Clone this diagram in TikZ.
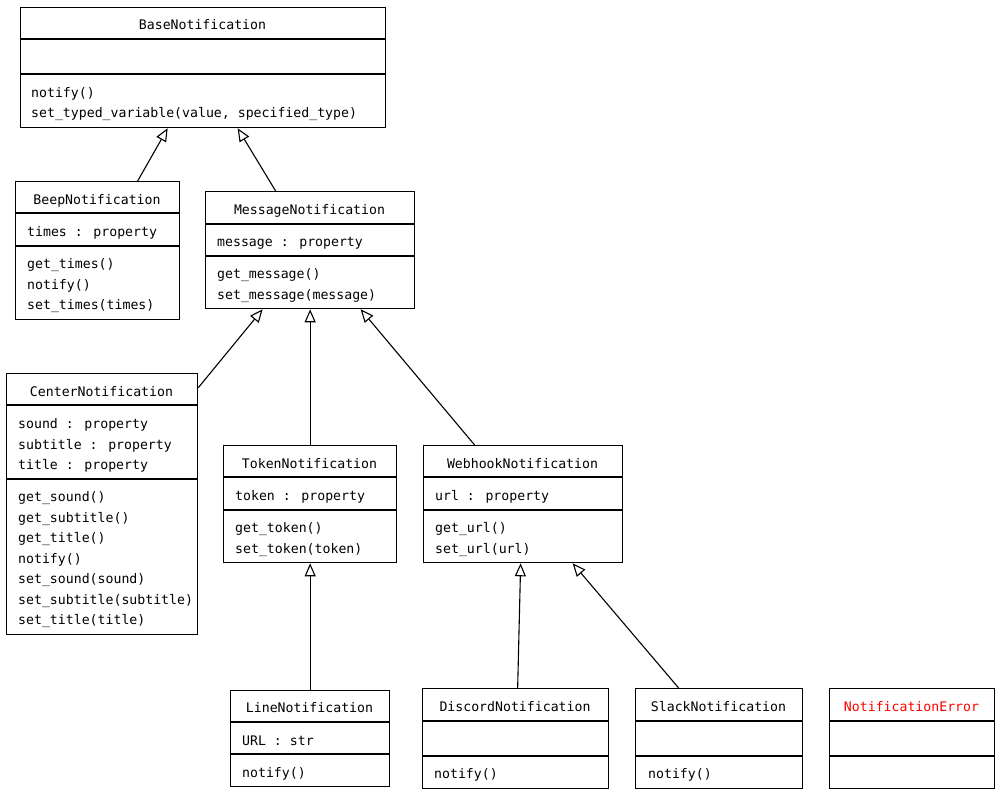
\documentclass[tikz,border=0pt]{standalone}
\usepackage{fontspec}
\newfontfamily\dvm{DejaVu Sans Mono}
\usetikzlibrary{arrows.meta}
\begin{document}
\begin{tikzpicture}[x=1pt,y=-1pt,
 cls/.style={draw, line width=1.3pt, anchor=north west, inner sep=0pt, fill=white},
 txt/.style={font=\dvm\fontsize{13.2}{15}\selectfont, inner sep=0pt, text height=12pt, text depth=2pt},
 lt/.style={txt, anchor=west},
 div/.style={line width=1.2pt},
 inh/.style={line width=1.1pt, -{Triangle[open, length=13pt, width=11pt]}}]
\useasboundingbox (0,0) rectangle (1000,795);

% BaseNotification
\node[cls, minimum width=365pt, minimum height=120pt] (base) at (20,7) {};
\draw[div] (20,39) -- (385,39) (20,74) -- (385,74);
\node[txt] (baseT) at (202.5,24) {BaseNotification};
\node[lt] (baseM1) at (31,92) {notify()};
\node[lt] (baseM2) at (31,112.5) {set\_typed\_variable(value, specified\_type)};

% BeepNotification
\node[cls, minimum width=164pt, minimum height=138pt] (beep) at (15,181) {};
\draw[div] (15,213) -- (179,213) (15,246) -- (179,246);
\node[txt] (beepT) at (97,199) {BeepNotification};
\node[lt] (beepA1) at (27,231) {times : property};
\node[lt] (beepM1) at (27,263.5) {get\_times()};
\node[lt] (beepM2) at (27,284) {notify()};
\node[lt] (beepM3) at (27,304.5) {set\_times(times)};

% MessageNotification
\node[cls, minimum width=209pt, minimum height=117pt] (msg) at (205,191) {};
\draw[div] (205,224) -- (414,224) (205,256) -- (414,256);
\node[txt] (msgT) at (309.5,209) {MessageNotification};
\node[lt] (msgA1) at (217,241.5) {message : property};
\node[lt] (msgM1) at (217,273.5) {get\_message()};
\node[lt] (msgM2) at (217,294) {set\_message(message)};

% CenterNotification
\node[cls, minimum width=191pt, minimum height=261pt] (center) at (6,373) {};
\draw[div] (6,405) -- (197,405) (6,479) -- (197,479);
\node[txt] (centerT) at (101.5,391) {CenterNotification};
\node[lt] (centerA1) at (18,423.5) {sound : property};
\node[lt] (centerA2) at (18,444) {subtitle : property};
\node[lt] (centerA3) at (18,464.5) {title : property};
\node[lt] (centerM1) at (18,496.5) {get\_sound()};
\node[lt] (centerM2) at (18,517) {get\_subtitle()};
\node[lt] (centerM3) at (18,537.5) {get\_title()};
\node[lt] (centerM4) at (18,558) {notify()};
\node[lt] (centerM5) at (18,578.5) {set\_sound(sound)};
\node[lt] (centerM6) at (18,599) {set\_subtitle(subtitle)};
\node[lt] (centerM7) at (18,619.5) {set\_title(title)};

% TokenNotification
\node[cls, minimum width=173pt, minimum height=117pt] (token) at (223,445) {};
\draw[div] (223,477) -- (396,477) (223,510) -- (396,510);
\node[txt] (tokenT) at (309.5,463) {TokenNotification};
\node[lt] (tokenA1) at (235,495.5) {token : property};
\node[lt] (tokenM1) at (235,527.5) {get\_token()};
\node[lt] (tokenM2) at (235,548) {set\_token(token)};

% WebhookNotification
\node[cls, minimum width=199pt, minimum height=117pt] (web) at (423,445) {};
\draw[div] (423,477) -- (622,477) (423,510) -- (622,510);
\node[txt] (webT) at (522.5,463) {WebhookNotification};
\node[lt] (webA1) at (435,495.5) {url : property};
\node[lt] (webM1) at (435,527.5) {get\_url()};
\node[lt] (webM2) at (435,548) {set\_url(url)};

% LineNotification
\node[cls, minimum width=159pt, minimum height=96pt] (line) at (230,690) {};
\draw[div] (230,722) -- (389,722) (230,754) -- (389,754);
\node[txt] (lineT) at (309.5,707.5) {LineNotification};
\node[lt] (lineA1) at (242,740) {URL : str};
\node[lt] (lineM1) at (242,772.5) {notify()};

% DiscordNotification
\node[cls, minimum width=186pt, minimum height=100pt] (discord) at (422,688) {};
\draw[div] (422,721) -- (608,721) (422,756) -- (608,756);
\node[txt] (discordT) at (515,706) {DiscordNotification};
\node[lt] (discordM1) at (434,773.5) {notify()};

% SlackNotification
\node[cls, minimum width=167pt, minimum height=100pt] (slack) at (635,688) {};
\draw[div] (635,721) -- (802,721) (635,756) -- (802,756);
\node[txt] (slackT) at (718.5,706) {SlackNotification};
\node[lt] (slackM1) at (648,773.5) {notify()};

% NotificationError
\node[cls, minimum width=165pt, minimum height=100pt] (err) at (829,688) {};
\draw[div] (829,721) -- (994,721) (829,756) -- (994,756);
\node[txt, text={rgb,255:red,255;green,0;blue,0}] (errT) at (911.5,706) {NotificationError};

% inheritance connectors
\draw[inh] ([xshift=40pt]beep.north) -- ([xshift=-35.5pt]base.south);
\draw[inh] ([xshift=-34.5pt]msg.north) -- ([xshift=34.5pt]base.south);
\draw[inh] ([yshift=116.5pt]center.east) -- ([xshift=-47.5pt]msg.south);
\draw[inh] (token.north) -- (msg.south);
\draw[inh] ([xshift=-48.5pt]web.north) -- ([xshift=50.5pt]msg.south);
\draw[inh] (line.north) -- (token.south);
\draw[inh] ([xshift=2pt]discord.north) -- ([xshift=-2.5pt]web.south);
\draw[inh] ([xshift=-40.5pt]slack.north) -- ([xshift=49.5pt]web.south);
\end{tikzpicture}
\end{document}
